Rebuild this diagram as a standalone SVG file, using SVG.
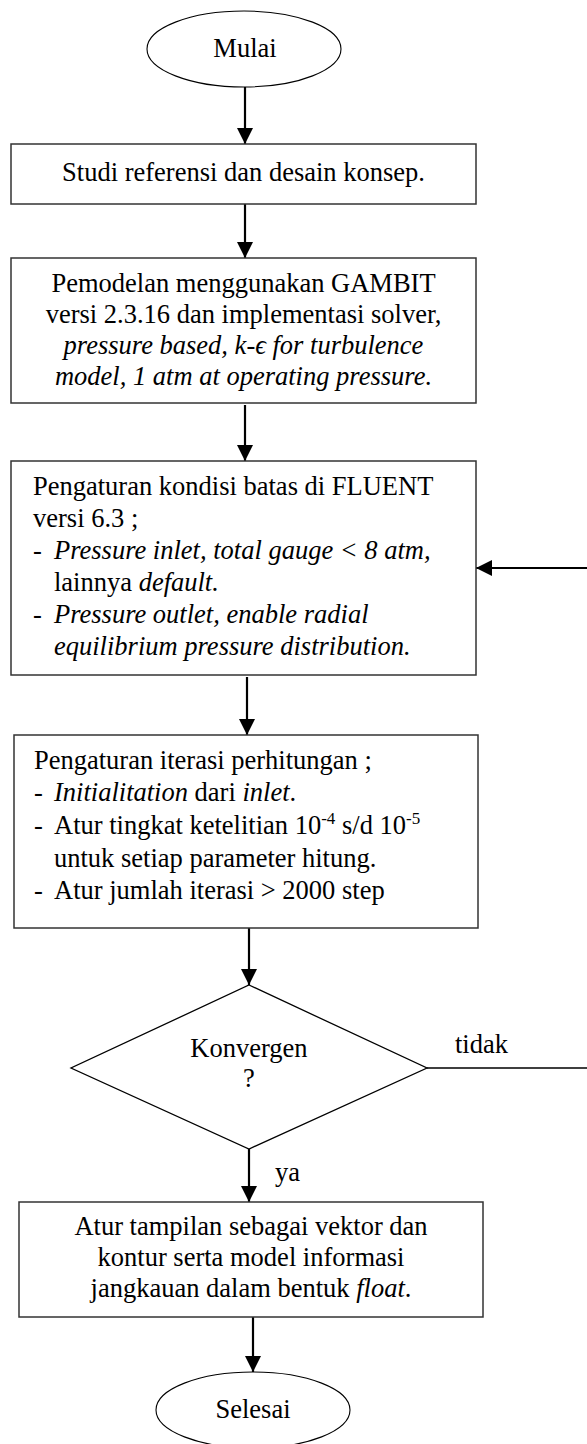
<svg xmlns="http://www.w3.org/2000/svg" width="587" height="1444" viewBox="0 0 587 1444">
<defs>
<style>
.box{fill:#fff;stroke:#333;stroke-width:1.5}
.term{fill:#fff;stroke:#000;stroke-width:1.1}
.dec{fill:#fff;stroke:#000;stroke-width:1.3}
.conn{stroke:#000;stroke-width:2.2;fill:none}
.thin{stroke:#000;stroke-width:1.4;fill:none}
text{font-family:"Liberation Serif","DejaVu Serif","Times New Roman",serif;font-size:26.5px;fill:#000}
.c{text-anchor:middle}
.i{font-style:italic}
.sup{font-size:17px}
</style>
<marker id="ah" markerUnits="userSpaceOnUse" markerWidth="16" markerHeight="16" viewBox="0 0 14 14" refX="14" refY="7" orient="auto">
<path d="M0,0 L14,7 L0,14 z" fill="#000"/>
</marker>
</defs>

<g id="connectors">
<line class="conn" x1="245" y1="87" x2="245" y2="144" marker-end="url(#ah)"/>
<line class="conn" x1="245" y1="204" x2="245" y2="258" marker-end="url(#ah)"/>
<line class="conn" x1="245" y1="405" x2="245" y2="461" marker-end="url(#ah)"/>
<line class="conn" x1="247" y1="677" x2="247" y2="735" marker-end="url(#ah)"/>
<line class="conn" x1="249" y1="928" x2="249" y2="985" marker-end="url(#ah)"/>
<line class="conn" x1="249" y1="1149" x2="249" y2="1202" marker-end="url(#ah)"/>
<line class="conn" x1="253" y1="1317" x2="253" y2="1372" marker-end="url(#ah)"/>
<polyline class="thin" points="427,1068 589,1068 589,568"/>
<line class="conn" x1="589" y1="568" x2="476" y2="568" marker-end="url(#ah)"/>
<text x="455" y="1053">tidak</text>
<text x="275" y="1181">ya</text>
</g>

<g id="start">
<ellipse class="term" cx="244" cy="49" rx="97" ry="38"/>
<text class="c" x="245" y="57">Mulai</text>
</g>

<g id="step1">
<rect class="box" x="11" y="144" width="465" height="60"/>
<text class="c" x="243.5" y="181">Studi referensi dan desain konsep.</text>
</g>

<g id="step2">
<rect class="box" x="11" y="258" width="465" height="145"/>
<text class="c" x="243.5" y="292">Pemodelan menggunakan GAMBIT</text>
<text class="c" x="243.5" y="323">versi 2.3.16 dan implementasi solver,</text>
<text class="c i" x="243.5" y="354">pressure based, k-ϵ for turbulence</text>
<text class="c i" x="243.5" y="385">model, 1 atm at operating pressure.</text>
</g>

<g id="step3">
<rect class="box" x="11" y="461" width="465" height="214"/>
<text x="33" y="495">Pengaturan kondisi batas di FLUENT</text>
<text x="33" y="527">versi 6.3 ;</text>
<text x="33" y="559">-</text>
<text class="i" x="54" y="559">Pressure inlet, total gauge &lt; 8 atm,</text>
<text x="54" y="591">lainnya <tspan class="i">default.</tspan></text>
<text x="33" y="623">-</text>
<text class="i" x="54" y="623">Pressure outlet, enable radial</text>
<text class="i" x="54" y="655">equilibrium pressure distribution.</text>
</g>

<g id="step4">
<rect class="box" x="14" y="735" width="464" height="193"/>
<text x="34" y="769">Pengaturan iterasi perhitungan ;</text>
<text x="34" y="801">-</text>
<text x="54" y="801"><tspan class="i">Initialitation</tspan> dari <tspan class="i">inlet</tspan>.</text>
<text x="34" y="834">-</text>
<text x="54" y="834">Atur tingkat ketelitian 10<tspan class="sup" dy="-10">-4</tspan><tspan dy="10"> s/d 10</tspan><tspan class="sup" dy="-10">-5</tspan></text>
<text x="54" y="867">untuk setiap parameter hitung.</text>
<text x="34" y="899">-</text>
<text x="54" y="899">Atur jumlah iterasi &gt; 2000 step</text>
</g>

<g id="decision">
<polygon class="dec" points="249,985 427,1068 249,1149 71,1068"/>
<text class="c" x="249" y="1057">Konvergen</text>
<text class="c" x="249" y="1087">?</text>
</g>

<g id="step5">
<rect class="box" x="19" y="1202" width="464" height="115"/>
<text class="c" x="251" y="1235">Atur tampilan sebagai vektor dan</text>
<text class="c" x="251" y="1266">kontur serta model informasi</text>
<text class="c" x="251" y="1297">jangkauan dalam bentuk <tspan class="i">float</tspan>.</text>
</g>

<g id="end">
<ellipse class="term" cx="253" cy="1410" rx="97" ry="38"/>
<text class="c" x="253" y="1418">Selesai</text>
</g>
</svg>
